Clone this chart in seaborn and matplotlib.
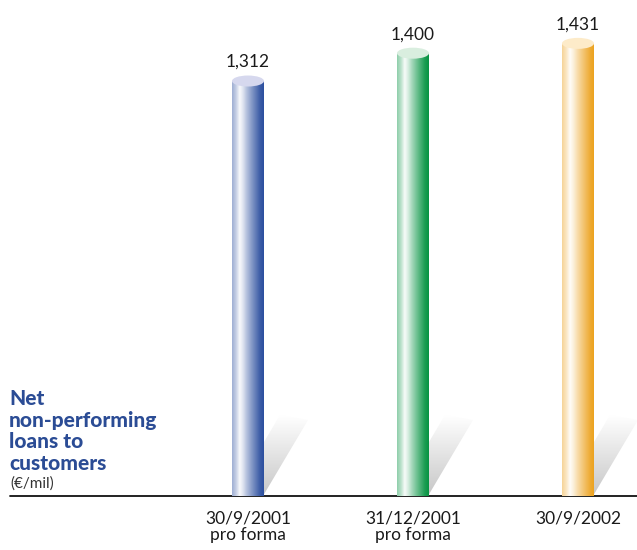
import numpy as np
import pandas as pd
import matplotlib
matplotlib.use("Agg")
import matplotlib.pyplot as plt
import seaborn as sns
from matplotlib.patches import Polygon, Ellipse
from matplotlib.colors import to_rgb

# ---- data ----
periods = ["30/9/2001", "31/12/2001", "30/9/2002"]
period_notes = ["pro forma", "pro forma", ""]
values = [1312, 1400, 1431]
value_labels = ["1,312", "1,400", "1,431"]
bar_colors = ["#2c4f9f", "#079443", "#eca11c"]
top_tints = ["#d6d8ee", "#d9eedf", "#fdebc9"]
title_lines = ["Net", "non-performing", "loans to", "customers"]
unit_label = "(€/mil)"

# ---- layout (pixel geometry of the canvas) ----
W, H = 637, 550
BASE_PY = 496            # baseline, pixels from top
PX_PER_UNIT = 0.3163     # vertical pixels per €m
FIRST_CX = 248           # centre of first column, pixels
STEP = 165               # pixels between columns
BAR_PX = 32              # column width, pixels
ELL_PX = 11              # height of the elliptical caps, pixels

sns.set_theme(style="white")
plt.rcParams["font.family"] = ["Lato", "DejaVu Sans"]

fig = plt.figure(figsize=(W / 100, H / 100), dpi=100)
fig.patch.set_facecolor("white")
ax = fig.add_axes([0, (H - BASE_PY) / H, 1, BASE_PY / H])

df = pd.DataFrame({"period": periods, "value": values})
sns.barplot(data=df, x="period", y="value", width=BAR_PX / STEP,
            color="white", ax=ax, zorder=3)

ax.set_xlim(-FIRST_CX / STEP, (W - FIRST_CX) / STEP)
ax.set_ylim(0, BASE_PY / PX_PER_UNIT)
ax.set_axis_off()

dx = 1 / STEP          # data units per horizontal pixel
dy = 1 / PX_PER_UNIT   # data units per vertical pixel
ell_h = ELL_PX * dy


def mix(c, w):
    c = np.array(to_rgb(c))
    return c * (1 - w) + np.ones(3) * w


# baseline rule
ax.plot([10 / W, 1], [0, 0], transform=ax.transAxes, color="#111111",
        lw=1.3, zorder=1, clip_on=False)

stops_t = [0.0, 0.12, 0.24, 0.34, 0.46, 0.6, 0.75, 0.88, 1.0]
stops_w = [0.55, 0.72, 0.97, 0.85, 0.65, 0.45, 0.25, 0.08, 0.0]

for patch, col, tint in zip(ax.patches, bar_colors, top_tints):
    x0 = patch.get_x()
    w = patch.get_width()
    h = patch.get_height()
    x1 = x0 + w
    cx = x0 + w / 2
    patch.set_facecolor("none")
    patch.set_edgecolor("none")

    # cast shadow behind the column
    sh = [(cx - 16 * dx, 0), (cx + 15 * dx, 0),
          (cx + 60 * dx, 76 * dy), (cx + 32 * dx, 81 * dy)]
    sh_poly = Polygon(sh, closed=True, facecolor="none", edgecolor="none",
                      transform=ax.transData)
    ax.add_patch(sh_poly)
    g = np.linspace(0.78, 1.0, 128)[:, None]
    sh_img = np.dstack([g, g, g]) * np.ones((1, 8, 1))
    im = ax.imshow(sh_img, extent=(cx - 16 * dx, cx + 60 * dx, 0, 81 * dy),
                   origin="lower", aspect="auto", zorder=2,
                   interpolation="bilinear")
    im.set_clip_path(sh_poly)

    # cylinder body: rectangle plus rounded bottom
    theta = np.linspace(np.pi, 2 * np.pi, 40)
    bottom = [(cx + (w / 2) * np.cos(t), (ell_h / 2) * np.sin(t)) for t in theta]
    verts = [(x0, h)] + bottom + [(x1, h)]
    body = Polygon(verts, closed=True, facecolor="none", edgecolor="none",
                   transform=ax.transData)
    ax.add_patch(body)
    t = np.linspace(0, 1, 64)
    wts = np.interp(t, stops_t, stops_w)
    row = np.array([mix(col, ww) for ww in wts])
    img = np.repeat(row[None, :, :], 4, axis=0)
    im = ax.imshow(img, extent=(x0, x1, -ell_h / 2, h), origin="lower",
                   aspect="auto", zorder=3, interpolation="bilinear")
    im.set_clip_path(body)

    # top cap
    ax.add_patch(Ellipse((cx, h), w, ell_h, facecolor=tint,
                         edgecolor="none", zorder=4))

# value labels
for i, (v, lab) in enumerate(zip(values, value_labels)):
    ax.text(i, v + 14 * dy, lab, ha="center", va="baseline",
            fontsize=12.5, color="#1a1a1a", zorder=5)

# category labels
for i, (p, n) in enumerate(zip(periods, period_notes)):
    xf = (FIRST_CX + i * STEP) / W
    fig.text(xf, 1 - 523 / H, p, ha="center", va="baseline",
             fontsize=12.5, color="#1a1a1a")
    if n:
        fig.text(xf, 1 - 540 / H, n, ha="center", va="baseline",
                 fontsize=12.5, color="#1a1a1a")

# side title
for j, line in enumerate(title_lines):
    fig.text(9 / W, 1 - (405 + 21.7 * j) / H, line, ha="left",
             va="baseline", fontsize=15, fontweight="black", color="#2b4c95")
fig.text(10 / W, 1 - 488 / H, unit_label, ha="left", va="baseline",
         fontsize=11, color="#333333")

fig.savefig("out.png", dpi=100, facecolor="white")
